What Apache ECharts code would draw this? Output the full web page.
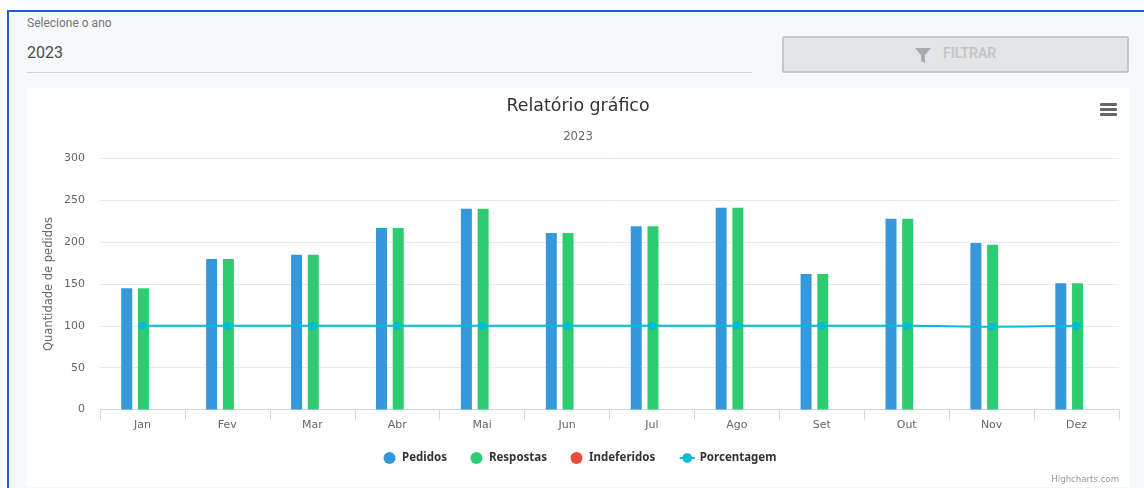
<!DOCTYPE html>
<html lang="pt">
<head>
<meta charset="utf-8">
<style>
html,body{margin:0;padding:0;width:1144px;height:488px;overflow:hidden;background:#fff;font-family:Roboto,sans-serif}
#frame{position:absolute;left:7px;top:10px;width:1137px;height:478px;box-sizing:border-box;border-left:2px solid #1a5fd0;border-top:2px solid #1a5fd0;background:#f7f8fa}
#lbl{position:absolute;left:27px;top:16px;font-size:12px;line-height:14px;color:#757575}
#val{position:absolute;left:27px;top:43px;font-size:16px;line-height:20px;color:#4a4a4a}
#under{position:absolute;left:27px;top:72px;width:725px;height:1px;background:#d3d4d8}
#btn{position:absolute;left:782px;top:36px;width:347px;height:37px;box-sizing:border-box;border:2px solid #c6c7c8;border-radius:2px;background:#e3e4e6}
#btn svg{position:absolute;left:131px;top:9px}
#btn span{position:absolute;left:159px;top:6px;font-size:14px;line-height:18px;font-weight:500;color:#c2c3c4}
#card{position:absolute;left:27px;top:88px;width:1102px;height:399px;background:#fff}
#chart{width:1102px;height:399px}
</style>
</head>
<body>
<div id="frame"></div>
<div id="lbl">Selecione o ano</div>
<div id="val">2023</div>
<div id="under"></div>
<div id="btn">
<svg width="16" height="16" viewBox="0 0 16 16"><path d="M0 1H16L10 8V16L6 14V8Z" fill="#a9aaab"/></svg>
<span>FILTRAR</span>
</div>
<div id="card"><div id="chart"></div></div>
<script src="https://cdn.jsdelivr.net/npm/echarts@6/dist/echarts.min.js"></script>
<script>
const categories = ['Jan','Fev','Mar','Abr','Mai','Jun','Jul','Ago','Set','Out','Nov','Dez'];
const pedidos = [145,180,185,217,240,211,219,241,162,228,199,151];
const respostas = [145,180,185,217,240,211,219,241,162,228,197,151];
const indeferidos = [0,0,0,0,0,0,0,0,0,0,0,0];
const porcentagem = [100,100,100,100,100,100,100,100,100,100,99,100];
const font = '"DejaVu Sans",sans-serif';
const chart = echarts.init(document.getElementById('chart'));
function bar(name,data,color){
  return {name,type:'bar',data,barWidth:11,barGap:'52%',z:2,xAxisIndex:1,yAxisIndex:1,
    itemStyle:{color}};
}
chart.setOption({
  animation:false,
  title:[
    {text:'Relatório gráfico',left:'center',top:5,textStyle:{fontFamily:font,fontSize:17.4,fontWeight:'normal',color:'#333'}},
    {text:'2023',left:'center',top:38,textStyle:{fontFamily:font,fontSize:11.7,fontWeight:'normal',color:'#666'}}
  ],
  grid:[
    {left:73,right:10,top:70.4,height:251.2},
    {left:74,right:9,top:70.4,height:251.2}
  ],
  legend:{
    left:351.5,top:359,itemWidth:15,itemHeight:12,itemGap:23.5,
    textStyle:{fontFamily:'"Noto Sans",sans-serif',fontSize:11.5,fontWeight:'bold',color:'#333'},
    data:[
      {name:'Pedidos',icon:'circle'},
      {name:'Respostas',icon:'circle'},
      {name:'Indeferidos',icon:'circle'},
      {name:'Porcentagem'}
    ]
  },
  xAxis:[{
    type:'category',data:categories,
    axisLine:{lineStyle:{color:'#ccd6eb',width:1}},
    axisTick:{show:true,length:10,lineStyle:{color:'#ccd6eb'}},
    axisLabel:{fontFamily:font,fontSize:11,color:'#666',margin:10},
    splitLine:{show:false}
  },{
    type:'category',data:categories,gridIndex:1,show:false
  }],
  yAxis:[{
    type:'value',min:0,max:300,interval:50,
    name:'Quantidade de pedidos',nameLocation:'middle',nameGap:45,nameMoveOverlap:false,
    nameTextStyle:{fontFamily:font,fontSize:11.5,color:'#666'},
    axisLine:{show:false},axisTick:{show:false},
    axisLabel:{fontFamily:font,fontSize:11,color:'#666',margin:15,padding:[2,0,0,0]},
    splitLine:{lineStyle:{color:'#e9e9e9',width:1}}
  },{
    type:'value',min:0,max:300,interval:50,gridIndex:1,show:false,splitLine:{show:false}
  }],
  series:[
    bar('Pedidos',pedidos,'#3498db'),
    bar('Respostas',respostas,'#2ecc71'),
    bar('Indeferidos',indeferidos,'#e74c3c'),
    {name:'Porcentagem',type:'line',data:porcentagem,smooth:0.35,z:3,
      symbol:'circle',symbolSize:8,
      lineStyle:{color:'#00bcd4',width:2},
      itemStyle:{color:'#00bcd4'}}
  ],
  graphic:[
    {type:'rect',left:1073,top:15,shape:{width:17,height:3,r:1},style:{fill:'#666'}},
    {type:'rect',left:1073,top:20,shape:{width:17,height:3,r:1},style:{fill:'#666'}},
    {type:'rect',left:1073,top:25,shape:{width:17,height:3,r:1},style:{fill:'#666'}},
    {type:'text',right:10,top:387,style:{text:'Highcharts.com',fontFamily:font,fontSize:8.6,fill:'#999'}}
  ]
});
</script>
</body>
</html>
